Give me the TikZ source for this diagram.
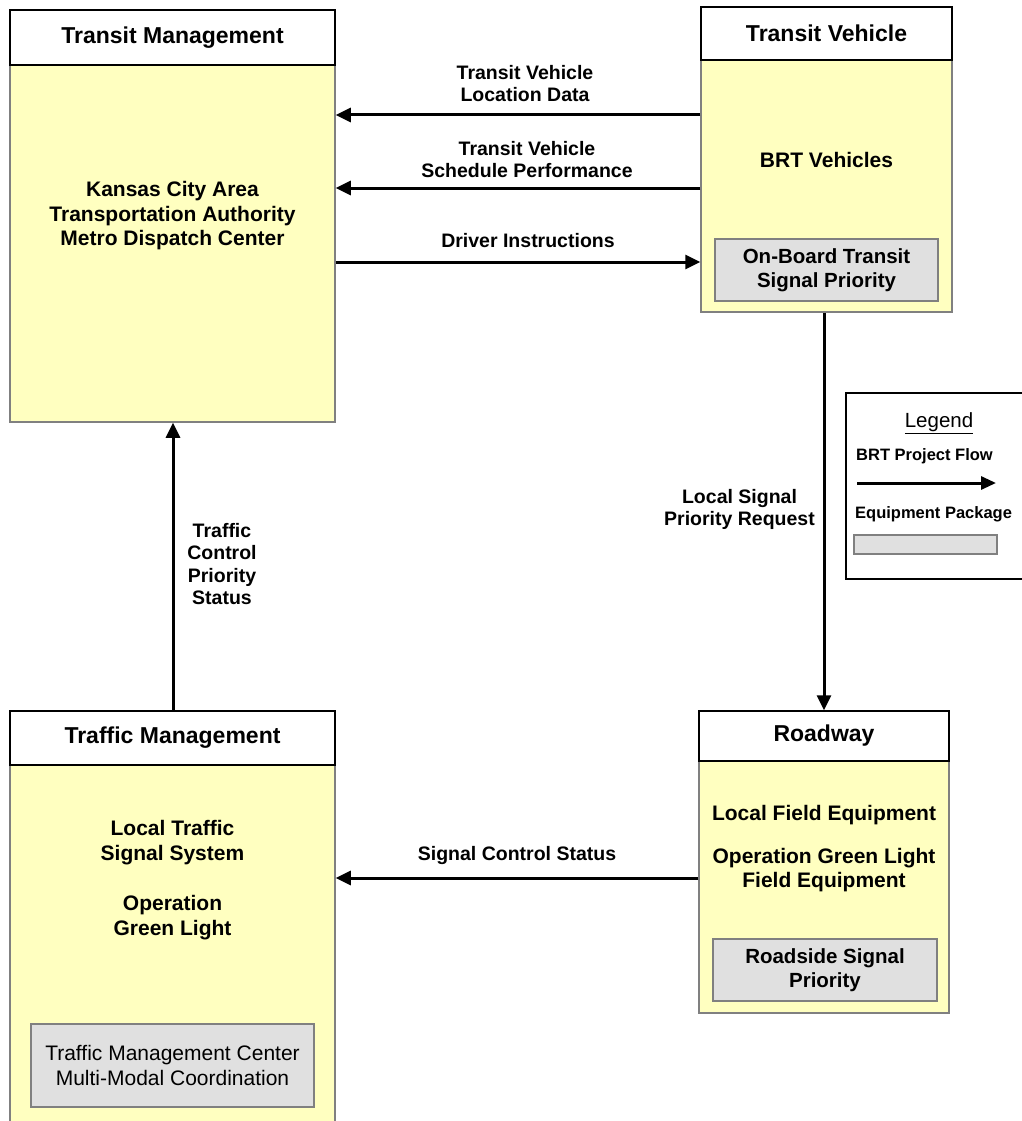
\documentclass[tikz,border=0pt]{standalone}
\usepackage{fontspec}
\setmainfont{Liberation Sans}
\usetikzlibrary{arrows.meta}
\definecolor{bodyyellow}{HTML}{FFFFC0}
\definecolor{pkggray}{HTML}{E0E0E0}
\definecolor{edgegray}{HTML}{808080}
\begin{document}
\begin{tikzpicture}[x=1pt,y=-1pt,
  hdr/.style={draw=black, line width=1.5pt, fill=white, inner sep=0pt, font=\fontsize{23}{27}\selectfont\bfseries},
  bodybox/.style={draw=edgegray, line width=1.5pt, fill=bodyyellow, inner sep=0pt},
  pkg/.style={draw=edgegray, line width=1.5pt, fill=pkggray, inner sep=0pt, align=center, font=\fontsize{20.5}{23.5}\selectfont\bfseries},
  btxt/.style={align=center, inner sep=0pt, font=\fontsize{21}{24.5}\selectfont\bfseries},
  lbl/.style={align=center, inner sep=0pt, font=\fontsize{19.5}{22.5}\selectfont\bfseries},
  flow/.style={line width=3pt, -{Triangle[length=15pt,width=14pt]}},
  legtxt/.style={anchor=west, inner sep=0pt, font=\fontsize{16.5}{19}\selectfont\bfseries}
]
\useasboundingbox (0,0) rectangle (1022,1121);

% Transit Management
\node[bodybox, minimum width=325pt, minimum height=357pt] (tmb) at (172.5,243.5) {};
\node[hdr, minimum width=325pt, minimum height=55pt] (tmh) at (172.5,37.5) {Transit Management};
\node[btxt] (tmt) at (172.5,216) {Kansas City Area\\Transportation Authority\\Metro Dispatch Center};

% Transit Vehicle
\node[bodybox, minimum width=251pt, minimum height=252pt] (tvb) at (826.5,186) {};
\node[hdr, minimum width=251pt, minimum height=53pt] (tvh) at (826.5,33.5) {Transit Vehicle};
\node[btxt] (tvt) at (826.5,160) {BRT Vehicles};
\node[pkg, minimum width=223pt, minimum height=62pt] (obt) at (826.5,270) {On-Board Transit\\Signal Priority};

% Roadway
\node[bodybox, minimum width=250pt, minimum height=252pt] (rwb) at (824,887) {};
\node[hdr, minimum width=250pt, minimum height=50pt] (rwh) at (824,736) {Roadway};
\node[btxt] (rwt) at (824,849) {Local Field Equipment\\[18pt]Operation Green Light\\Field Equipment};
\node[pkg, minimum width=224pt, minimum height=62pt] (rsp) at (825,970) {Roadside Signal\\Priority};

% Traffic Management
\node[bodybox, minimum width=325pt, minimum height=370pt] (trb) at (172.5,950) {};
\node[hdr, minimum width=325pt, minimum height=54pt] (trh) at (172.5,738) {Traffic Management};
\node[btxt] (trt) at (172.5,880) {Local Traffic\\Signal System\\[26pt]Operation\\Green Light};
\node[pkg, minimum width=283pt, minimum height=83pt, font=\fontsize{21}{25}\selectfont] (tmc) at (172.5,1065.5) {Traffic Management Center\\Multi-Modal Coordination};

% Flow coordinates
\coordinate (y1) at (0,115);
\coordinate (y2) at (0,188);
\coordinate (y3) at (0,262);
\coordinate (y4) at (0,878);
\coordinate (xv) at (824,0);
\coordinate (xt) at (173,0);

\draw[flow] (tvb.west |- y1) -- (tmb.east |- y1);
\draw[flow] (tvb.west |- y2) -- (tmb.east |- y2);
\draw[flow] (tmb.east |- y3) -- (tvb.west |- y3);
\draw[flow] (tvb.south -| xv) -- (rwh.north -| xv);
\draw[flow] (trh.north -| xt) -- (tmb.south -| xt);
\draw[flow] (rwb.west |- y4) -- (trb.east |- y4);

% Labels
\node[lbl] (l1) at (525,83.5) {Transit Vehicle\\Location Data};
\node[lbl] (l2) at (527,159.5) {Transit Vehicle\\Schedule Performance};
\node[lbl] (l3) at (528,241) {Driver Instructions};
\node[lbl] (l4) at (739.5,509.5) {Local Signal\\Priority Request};
\node[lbl] (l5) at (222,564) {Traffic\\Control\\Priority\\Status};
\node[lbl] (l6) at (517,855) {Signal Control Status};

% Legend
\node[draw=black, line width=1.5pt, fill=white, minimum width=186pt, minimum height=186pt, inner sep=0pt] (leg) at (939,486) {};
\node[inner sep=0pt, font=\fontsize{20.5}{24}\selectfont] (legt) at (939,423) {\underline{Legend}};
\node[legtxt] (leg1) at (856,456) {BRT Project Flow};
\coordinate (la) at (857,483);
\coordinate (lb) at (996,483);
\draw[flow, -{Triangle[length=15pt,width=13pt]}] (la) -- (lb);
\node[legtxt] (leg2) at (855,514) {Equipment Package};
\node[draw=edgegray, line width=1.5pt, fill=pkggray, minimum width=143pt, minimum height=19pt, inner sep=0pt] (legp) at (925.5,544.5) {};
\end{tikzpicture}
\end{document}
